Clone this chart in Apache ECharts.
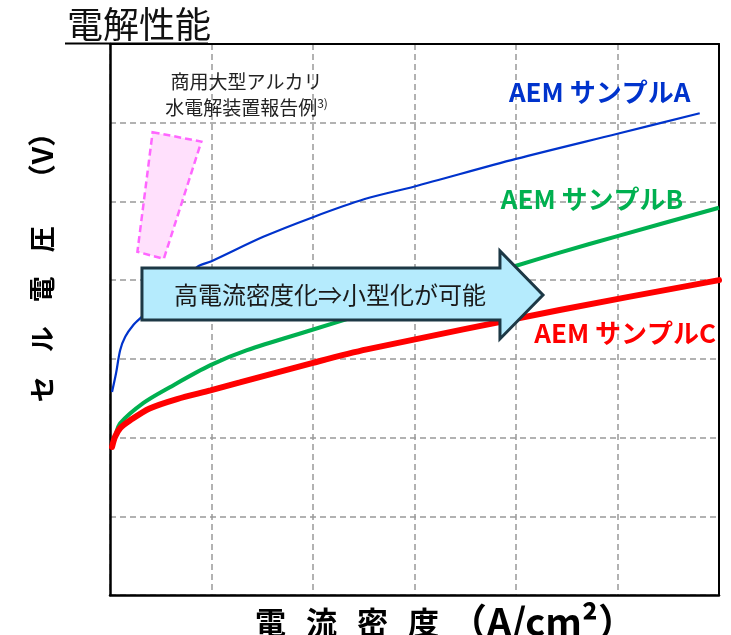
<!DOCTYPE html>
<html>
<head>
<meta charset="utf-8">
<script src="https://cdn.jsdelivr.net/npm/echarts@6/dist/echarts.min.js"></script>
<style>
  html, body { margin: 0; padding: 0; background: #fff; }
  #chart { width: 731px; height: 635px; }
</style>
</head>
<body>
<div id="chart"></div>
<script>
// Current density (grid units) vs cell voltage (grid units) for three AEM samples
const sampleA_x = [0.02, 0.06, 0.10, 0.15, 0.23, 0.31, 0.86, 1.00, 1.51, 2.00, 2.51, 3.00, 4.00, 5.00, 5.81];
const sampleA_y = [2.58, 2.82, 3.11, 3.28, 3.43, 3.53, 4.17, 4.24, 4.55, 4.80, 5.03, 5.19, 5.54, 5.86, 6.12];

const sampleB_x = [0.02, 0.05, 0.10, 0.33, 0.59, 0.99, 1.35, 1.97, 2.60, 3.97, 4.43, 5.00, 6.00];
const sampleB_y = [1.88, 2.01, 2.18, 2.44, 2.64, 2.92, 3.11, 3.36, 3.61, 4.17, 4.35, 4.56, 4.92];

const sampleC_x = [0.02, 0.05, 0.10, 0.20, 0.39, 0.66, 0.99, 1.28, 2.00, 2.53, 4.43, 6.00];
const sampleC_y = [1.88, 2.01, 2.12, 2.22, 2.37, 2.49, 2.60, 2.70, 2.95, 3.12, 3.62, 4.00];

// Reported operating range of commercial large alkaline electrolysers
const alkalineRangeX = [0.42, 0.90, 0.53, 0.27];
const alkalineRangeY = [5.88, 5.76, 4.27, 4.36];

const seriesNames = ['AEM サンプルA', 'AEM サンプルB', 'AEM サンプルC'];

const CJK = "'Noto Sans CJK JP', 'Noto Sans', sans-serif";

function pairs(xs, ys) { return xs.map((x, i) => [x, ys[i]]); }

function renderAnnotations(params, api) {
  const p = (x, y) => api.coord([x, y]);
  const children = [];

  // dashed pink region
  children.push({
    type: 'polygon',
    shape: { points: alkalineRangeX.map((x, i) => p(x, alkalineRangeY[i])) },
    style: { fill: '#ffe0fc', stroke: '#ff66ff', lineWidth: 2.5, lineDash: [7, 4] }
  });

  children.push({
    type: 'text',
    style: {
      text: '商用大型アルカリ\n水電解装置報告例{s|3)}',
      x: p(1.345, 0)[0], y: p(0, 6.35)[1],
      align: 'center', verticalAlign: 'middle',
      font: '19px ' + CJK, fill: '#222', lineHeight: 26,
      rich: { s: { fontSize: 12, fontFamily: CJK, fill: '#222', padding: [0, 0, 9, 0] } }
    }
  });

  // block arrow
  const arrow = [
    p(0.315, 4.155), p(3.842, 4.155), p(3.842, 4.371), p(4.266, 3.812),
    p(3.842, 3.253), p(3.842, 3.494), p(0.315, 3.494)
  ];
  children.push({
    type: 'polygon',
    shape: { points: arrow },
    style: { fill: '#b5ebfd', stroke: '#1d3845', lineWidth: 3, lineJoin: 'miter' }
  });
  children.push({
    type: 'text',
    style: {
      text: '高電流密度化⇒小型化が可能',
      x: p(2.167, 0)[0], y: p(0, 3.81)[1],
      align: 'center', verticalAlign: 'middle',
      font: '24px ' + CJK, fill: '#1a1a1a'
    }
  });

  // sample labels
  const labels = [
    { t: seriesNames[0], x: 3.93, y: 6.39, c: '#0033cc' },
    { t: seriesNames[1], x: 3.85, y: 5.03, c: '#00b050' },
    { t: seriesNames[2], x: 4.18, y: 3.33, c: '#ff0000' }
  ];
  labels.forEach(l => {
    const q = p(l.x, l.y);
    children.push({
      type: 'text',
      style: {
        text: l.t, x: q[0], y: q[1], align: 'left', verticalAlign: 'middle',
        font: 'bold 26px ' + CJK, fill: l.c
      }
    });
  });

  return { type: 'group', children };
}

const chart = echarts.init(document.getElementById('chart'), null, { renderer: 'canvas' });

// top and right edges of the plot frame
const frameAxis = {
  axisLine: { show: true, onZero: false, lineStyle: { color: '#000', width: 2 } },
  axisTick: { show: false },
  axisLabel: { show: false },
  splitLine: { show: false }
};

chart.setOption({
  animation: false,
  backgroundColor: '#fff',
  title: {
    text: '電解性能',
    left: 62, top: 1,
    textStyle: { fontSize: 36, fontWeight: 'normal', color: '#111', fontFamily: CJK }
  },
  graphic: [{
    type: 'line',
    shape: { x1: 65, y1: 43.5, x2: 208, y2: 43.5 },
    style: { stroke: '#000', lineWidth: 2 },
    z: 10
  }],
  grid: {
    left: 110, right: 12, top: 44, bottom: 40,
    show: false, containLabel: false, outerBoundsMode: 'none'
  },
  xAxis: [{
    type: 'value', min: 0, max: 6, interval: 1,
    name: '{f|電}{c|流}{c|密}{c|度}{p|（A/cm²）}',
    nameLocation: 'middle', nameGap: 8,
    nameTextStyle: {
      color: '#000',
      rich: {
        f: { fontSize: 31, fontWeight: 'bold', fontFamily: CJK, color: '#000', padding: [0, 10, 0, 62] },
        c: { fontSize: 31, fontWeight: 'bold', fontFamily: CJK, color: '#000', padding: [0, 10, 0, 10] },
        p: { fontSize: 38, fontWeight: 'bold', fontFamily: CJK, color: '#000', padding: [0, 0, 0, 0] }
      }
    },
    axisLine: { onZero: false, lineStyle: { color: '#000', width: 2.5 } },
    axisTick: { show: false },
    axisLabel: { show: false },
    splitLine: { show: true, lineStyle: { color: '#999', width: 1.5, type: [6, 4] } }
  }, Object.assign({ type: 'value', min: 0, max: 6, position: 'top' }, frameAxis)],
  yAxis: [{
    type: 'value', min: 0, max: 7, interval: 1,
    name: '{f|セ}{c|ル}{c|電}{c|圧}{p|（V）}',
    nameLocation: 'middle', nameGap: 54, nameRotate: 90,
    nameTextStyle: {
      color: '#000',
      rich: {
        f: { fontSize: 26, fontWeight: 'bold', fontFamily: CJK, color: '#000', padding: [0, 12, 0, 118] },
        c: { fontSize: 26, fontWeight: 'bold', fontFamily: CJK, color: '#000', padding: [0, 12, 0, 12] },
        p: { fontSize: 28, fontWeight: 'bold', fontFamily: CJK, color: '#000', padding: [0, 0, 0, 22] }
      }
    },
    axisLine: { show: true, onZero: false, lineStyle: { color: '#000', width: 2.5 } },
    axisTick: { show: false },
    axisLabel: { show: false },
    splitLine: { show: true, lineStyle: { color: '#999', width: 1.5, type: [6, 4] } }
  }, Object.assign({ type: 'value', min: 0, max: 7, position: 'right' }, frameAxis)],
  series: [
    {
      name: seriesNames[0], type: 'line', data: pairs(sampleA_x, sampleA_y),
      smooth: 0.3, showSymbol: false,
      lineStyle: { color: '#0033cc', width: 2.2 }, z: 3
    },
    {
      name: seriesNames[1], type: 'line', data: pairs(sampleB_x, sampleB_y),
      smooth: 0.3, showSymbol: false,
      lineStyle: { color: '#00b050', width: 4 }, z: 3
    },
    {
      name: seriesNames[2], type: 'line', data: pairs(sampleC_x, sampleC_y),
      smooth: 0.3, showSymbol: false,
      lineStyle: { color: '#ff0000', width: 6, cap: 'round' }, z: 4
    },
    {
      name: 'annotations', type: 'custom', data: [[0, 0]],
      renderItem: renderAnnotations, z: 10, silent: true, clip: false
    }
  ]
});
</script>
</body>
</html>
